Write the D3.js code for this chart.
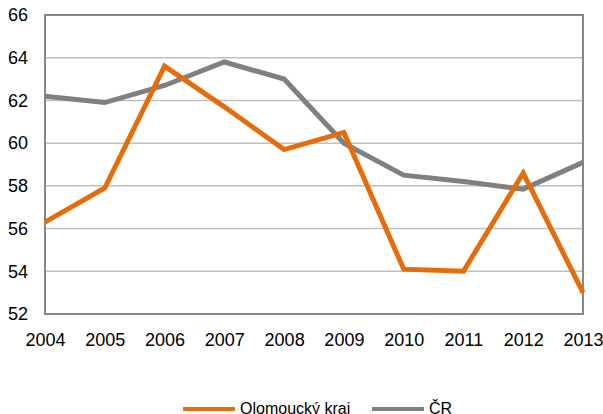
<!DOCTYPE html>
<html>
<head>
<meta charset="utf-8">
<script src="https://cdn.jsdelivr.net/npm/d3@7"></script>
<style>
  body { margin: 0; background: #fff; }
  text { font-family: "Liberation Sans", Arial, sans-serif; fill: #000; }
</style>
</head>
<body>
<svg width="603" height="414"></svg>
<script>
var years = [2004, 2005, 2006, 2007, 2008, 2009, 2010, 2011, 2012, 2013];
var olomoucky = [56.3, 57.9, 63.6, 61.7, 59.7, 60.5, 54.1, 54.0, 58.6, 53.0];
var cr = [62.2, 61.9, 62.7, 63.8, 63.0, 60.0, 58.5, 58.2, 57.85, 59.1];
var yTicks = [52, 54, 56, 58, 60, 62, 64, 66];
var seriesNames = ["Olomoucký kraj", "ČR"];
var seriesColors = ["#e46c0a", "#808080"];

var svg = d3.select("svg"),
    plotLeft = 45, plotRight = 583, plotTop = 15, plotBottom = 314;

var x = d3.scalePoint()
    .domain(years)
    .range([plotLeft, plotRight]);

var y = d3.scaleLinear()
    .domain([52, 66])
    .range([plotBottom, plotTop]);

// gridlines
svg.append("g")
    .selectAll("line")
    .data(yTicks.slice(1, -1))
    .enter().append("line")
    .attr("x1", plotLeft).attr("x2", plotRight)
    .attr("y1", function(d) { return y(d); })
    .attr("y2", function(d) { return y(d); })
    .attr("stroke", "#c0c0c0")
    .attr("stroke-width", 1.5);

// plot frame
svg.append("rect")
    .attr("x", plotLeft).attr("y", plotTop)
    .attr("width", plotRight - plotLeft).attr("height", plotBottom - plotTop)
    .attr("fill", "none")
    .attr("stroke", "#878787")
    .attr("stroke-width", 2);

// y axis labels
var yAxis = d3.axisLeft(y).tickValues(yTicks).tickSize(0).tickPadding(17);
svg.append("g")
    .attr("transform", "translate(" + plotLeft + ",0)")
    .call(yAxis)
    .call(function(g) { g.select(".domain").remove(); })
    .selectAll("text")
    .style("font-size", "18px")
    .attr("fill", "#000");

// x axis labels
var xAxis = d3.axisBottom(x).tickSize(0).tickPadding(19);
svg.append("g")
    .attr("transform", "translate(0," + plotBottom + ")")
    .call(xAxis)
    .call(function(g) { g.select(".domain").remove(); })
    .selectAll("text")
    .style("font-size", "18px")
    .attr("fill", "#000");

var line = d3.line()
    .x(function(d, i) { return x(years[i]); })
    .y(function(d) { return y(d); });

// grey first, orange over it
[[cr, seriesColors[1]], [olomoucky, seriesColors[0]]].forEach(function(s) {
    svg.append("path")
        .datum(s[0])
        .attr("d", line)
        .attr("fill", "none")
        .attr("stroke", s[1])
        .attr("stroke-width", 5)
        .attr("stroke-linejoin", "miter")
        .attr("stroke-linecap", "butt");
});

// legend
var legendX = [183, 372];
var legend = svg.append("g")
    .selectAll("g")
    .data(seriesNames)
    .enter().append("g")
    .attr("transform", function(d, i) { return "translate(" + legendX[i] + ",409)"; });

legend.append("line")
    .attr("x1", 0).attr("x2", 52)
    .attr("y1", 0).attr("y2", 0)
    .attr("stroke", function(d, i) { return seriesColors[i]; })
    .attr("stroke-width", 4);

legend.append("text")
    .attr("x", 57)
    .attr("y", 5)
    .style("font-size", "16px")
    .text(function(d) { return d; });
</script>
</body>
</html>
